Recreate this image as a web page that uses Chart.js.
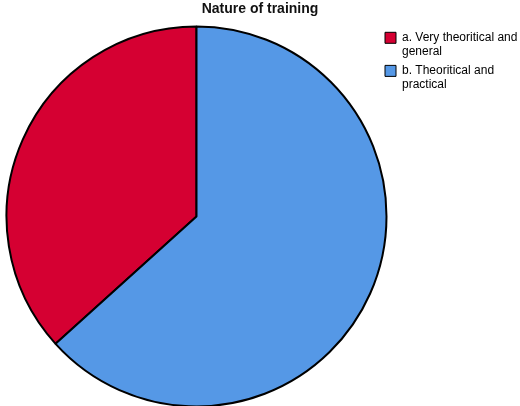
<!DOCTYPE html>
<html>
<head>
<meta charset="utf-8">
<script src="https://cdn.jsdelivr.net/npm/chart.js@4.4.1/dist/chart.umd.min.js"></script>
<style>
    html, body { margin: 0; padding: 0; background: #fff; }
    #wrap { width: 520px; height: 406px; }
</style>
</head>
<body>
<div id="wrap"><canvas id="pieChart"></canvas></div>
<script>
// values (percent of answers)
const categories = [
    ["a. Very theoritical and", "general"],
    ["b. Theoritical and", "practical"]
];
const shares = [36.7, 63.3];
const sliceColors = ["#d50032", "#5598e6"];

// the first slice ends at 12 o'clock, so start it where the second one stops
const total = shares.reduce((a, b) => a + b, 0);
const startAngle = 360 * shares[1] / total;

// empty box on the left, under the title, so the pie sits a bit more to the right
// while the title stays centred on the whole canvas
const leftGutter = {
    id: "leftGutter",
    beforeInit(chart) {
        Chart.layouts.addBox(chart, {
            position: "left",
            weight: 0,
            fullSize: false,
            options: {},
            isHorizontal() {
                return false;
            },
            update(maxWidth, maxHeight) {
                this.width = 13;
                this.height = maxHeight;
            },
            draw() {},
        });
    },
};

const ctx = document.getElementById("pieChart").getContext("2d");
new Chart(ctx, {
    type: "pie",
    plugins: [leftGutter],
    data: {
        labels: categories,
        datasets: [
            {
                data: shares,
                backgroundColor: sliceColors,
                borderColor: "#000",
                borderWidth: 2,
            },
        ],
    },
    options: {
        responsive: true,
        maintainAspectRatio: false,
        animation: false,
        rotation: startAngle,
        radius: 190,
        layout: {
            padding: 0,
        },
        plugins: {
            title: {
                display: true,
                text: "Nature of training",
                color: "#111",
                font: { family: "'Liberation Sans', Arial, sans-serif", size: 14, weight: "bold", lineHeight: 1.2 },
                padding: { top: 1, bottom: 9 },
            },
            legend: {
                position: "right",
                align: "start",
                fullSize: false,
                maxWidth: 140,
                labels: {
                    boxWidth: 11,
                    boxHeight: 11,
                    padding: 5,
                    color: "#222",
                    font: { family: "'Liberation Sans', Arial, sans-serif", size: 12, lineHeight: 1.17 },
                    generateLabels: (chart) =>
                        categories.map((text, i) => ({
                            text: text,
                            fillStyle: sliceColors[i],
                            strokeStyle: "#000",
                            lineWidth: 1,
                            hidden: false,
                            index: i,
                        })),
                },
            },
            tooltip: { enabled: false },
        },
    },
});
</script>
</body>
</html>
